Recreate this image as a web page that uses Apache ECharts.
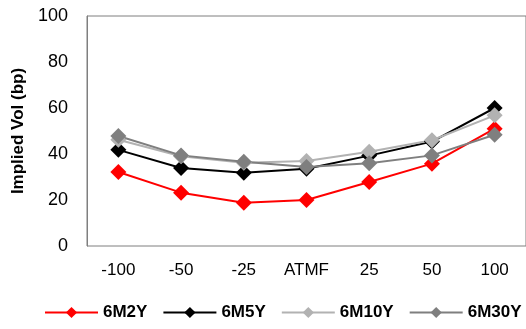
<!DOCTYPE html>
<html>
<head>
<meta charset="utf-8">
<script src="https://cdn.jsdelivr.net/npm/echarts@6/dist/echarts.min.js"></script>
<style>
  html, body { margin: 0; padding: 0; background: #fff; }
  #chart { width: 526px; height: 329px; }
</style>
</head>
<body>
<div id="chart"></div>
<script>
var categories = ['-100', '-50', '-25', 'ATMF', '25', '50', '100']
var s6M2Y = [32.2, 23.2, 18.8, 20.0, 27.8, 35.8, 51.0]
var s6M5Y = [41.8, 33.9, 31.8, 33.6, 39.3, 45.4, 60.0]
var s6M10Y = [46.2, 39.0, 36.2, 37.0, 41.0, 46.0, 56.8]
var s6M30Y = [47.8, 39.4, 36.6, 34.4, 36.0, 39.4, 48.4]

var chart = echarts.init(document.getElementById('chart'))

function line (name, data, color) {
  return {
    name: name,
    type: 'line',
    data: data,
    symbol: 'diamond',
    symbolSize: 16,
    lineStyle: { color: color, width: 2 },
    itemStyle: { color: color },
    animation: false
  }
}

chart.setOption({
  grid: {
    left: 87, right: -6, top: 16, bottom: 83,
    show: true, borderColor: '#7f7f7f', borderWidth: 1
  },
  legend: {
    top: 304,
    left: 44,
    width: 482,
    padding: 0,
    itemWidth: 53,
    itemHeight: 14,
    itemGap: 15,
    textStyle: { fontFamily: 'Liberation Sans', fontWeight: 'bold', fontSize: 17, color: '#000' },
    data: ['6M2Y', '6M5Y', '6M10Y', '6M30Y']
  },
  xAxis: {
    type: 'category',
    data: categories,
    axisLine: { show: false },
    axisTick: { show: false },
    axisLabel: { fontFamily: 'Liberation Sans', fontSize: 17, color: '#000', margin: 16 }
  },
  yAxis: {
    type: 'value',
    min: 0, max: 100, interval: 20,
    name: 'Implied Vol (bp)',
    nameLocation: 'middle',
    nameGap: 58,
    nameTextStyle: { fontFamily: 'Liberation Sans', fontWeight: 'bold', fontSize: 17, color: '#000' },
    axisLine: { show: true, lineStyle: { color: '#7f7f7f' } },
    axisTick: { show: false },
    splitLine: { show: false },
    axisLabel: { fontFamily: 'Liberation Sans', fontSize: 18, color: '#000', margin: 19 }
  },
  series: [
    line('6M2Y', s6M2Y, '#ff0000'),
    line('6M5Y', s6M5Y, '#000000'),
    line('6M10Y', s6M10Y, '#b2b2b2'),
    line('6M30Y', s6M30Y, '#7f7f7f')
  ]
})
</script>
</body>
</html>
